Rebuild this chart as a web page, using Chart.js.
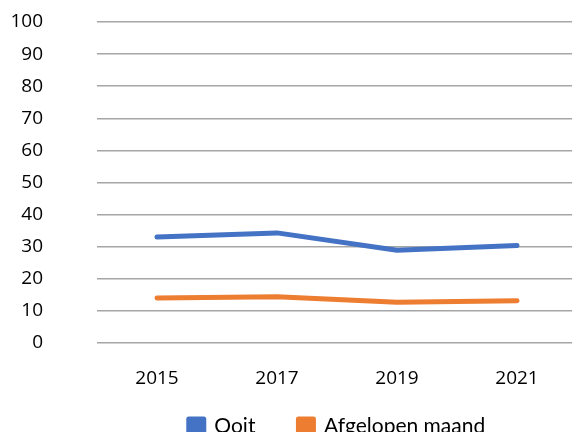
<!DOCTYPE html>
<html>
<head>
<meta charset="utf-8">
<script src="https://cdn.jsdelivr.net/npm/chart.js@4"></script>
<style>
  html, body { margin: 0; padding: 0; background: #fff; overflow: hidden; }
  #wrap { position: absolute; left: 0; top: 0; width: 600px; height: 432px; }
</style>
</head>
<body>
<div id="wrap"><canvas id="chart" width="600" height="432"></canvas></div>
<script>
// Jaren en waarden (in %)
const jaren = ['2015', '2017', '2019', '2021'];
const ooit = [33.0, 34.3, 28.9, 30.4];
const afgelopenMaand = [14.0, 14.4, 12.7, 13.2];
const yTicks = [0, 10, 20, 30, 40, 50, 60, 70, 80, 90, 100];

// Legenda: grote horizontale afstand (padding) maar compacte hoogte
const legendPlaats = {
  id: 'legendPlaats',
  beforeUpdate(chart) {
    const lg = chart.legend;
    if (lg && !lg._gepatcht) {
      const origFit = lg.fit.bind(lg);
      lg.fit = function () {
        origFit();
        this.height = 39;
      };
      lg._gepatcht = true;
    }
  },
  afterLayout(chart) {
    const lg = chart.legend;
    // tekst begint op top + padding, dus het vak omhoog schuiven
    lg.top = chart.height - 59;
  }
};

const ctx = document.getElementById('chart').getContext('2d');

new Chart(ctx, {
  type: 'line',
  data: {
    labels: jaren,
    datasets: [
      {
        label: 'Ooit',
        data: ooit,
        borderColor: '#4472C4',
        backgroundColor: '#4472C4',
        borderWidth: 5,
        borderCapStyle: 'round',
        borderJoinStyle: 'round',
        pointRadius: 0,
        tension: 0
      },
      {
        label: 'Afgelopen maand',
        data: afgelopenMaand,
        borderColor: '#ED7D31',
        backgroundColor: '#ED7D31',
        borderWidth: 5,
        borderCapStyle: 'round',
        borderJoinStyle: 'round',
        pointRadius: 0,
        tension: 0
      }
    ]
  },
  plugins: [legendPlaats],
  options: {
    responsive: false,
    animation: false,
    layout: { padding: { left: 0, right: 23, top: 22, bottom: 0 } },
    plugins: {
      tooltip: { enabled: false },
      legend: {
        position: 'bottom',
        fullSize: false,
        labels: {
          boxWidth: 15,
          boxHeight: 15,
          padding: 43,
          color: '#000',
          font: { family: 'Lato', size: 21 }
        }
      }
    },
    scales: {
      x: {
        offset: true,
        afterFit: (axis) => { axis.height = 50; },
        grid: { display: false, drawTicks: false },
        border: { display: false },
        ticks: {
          color: '#000',
          padding: 24,
          font: { family: 'Open Sans', size: 19 }
        }
      },
      y: {
        min: 0,
        max: 100,
        afterFit: (axis) => {
          axis.width = 97;
          axis.paddingTop = 0;
          axis.paddingBottom = 0;
        },
        afterBuildTicks: (axis) => { axis.ticks = yTicks.map(v => ({ value: v })); },
        grid: { color: '#A6A6A6', lineWidth: 1.5, drawTicks: false },
        border: { display: false },
        ticks: {
          color: '#000',
          padding: 54,
          font: { family: 'Open Sans', size: 19 }
        }
      }
    }
  }
});
</script>
</body>
</html>
